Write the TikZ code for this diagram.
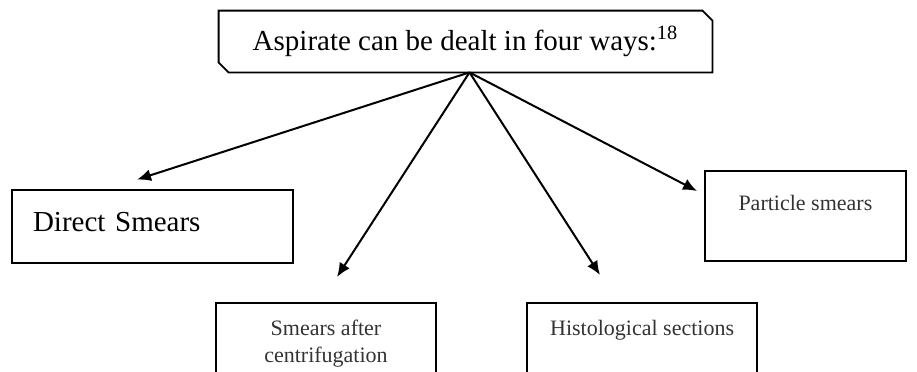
\documentclass[tikz,border=0pt]{standalone}
\usepackage{fontspec}
\setmainfont{Liberation Serif}
\usepackage{tikz}
\usetikzlibrary{arrows.meta,positioning,calc}

\begin{document}
\begin{tikzpicture}[
  x=0.5pt, y=-0.5pt,
  >={Latex[length=7pt,width=6pt]},
  box/.style={draw, line width=0.9pt, inner ysep=0pt},
  headbox/.style={minimum width=246.5pt, minimum height=30.5pt,
                  font=\fontsize{14.5}{17}\selectfont},
  bigbox/.style={box, line width=1.4pt, minimum width=140.5pt, minimum height=36.5pt,
                 text width=119.5pt, inner xsep=10.5pt, align=left,
                 font=\fontsize{14.5}{17}\selectfont},
  smallbox/.style={box, align=center, text=black!80, font=\fontsize{11}{13.5}\selectfont},
  arr/.style={->, line width=1pt}
]
\useasboundingbox (0,0) rectangle (917,371);
\clip (0,0) rectangle (917,371);

% ---------- heading ----------
\node[headbox] (ways) at (465.5,41.5) {Aspirate can be dealt in four ways:\textsuperscript{18}};
\draw[line width=0.9pt] (ways.north west) -- ([xshift=-5pt]ways.north east)
  -- ([yshift=-5pt]ways.north east) -- (ways.south east)
  -- ([xshift=5pt]ways.south west) -- ([yshift=5pt]ways.south west) -- cycle;
\coordinate (apex) at ([xshift=2pt]ways.south);

% ---------- the four ways ----------
\node[bigbox, text depth=5pt] (direct) at (152.5,226.5) {Direct Smears};
\node[smallbox, anchor=north, minimum width=110pt, inner ysep=8.5pt, text depth=40pt]
  (centrif) at (326,302) {Smears after\\centrifugation};
\node[smallbox, anchor=north east, inner xsep=11.5pt, inner ysep=8.5pt, text depth=40pt]
  (histo) at (758,302) {Histological sections};
\node[smallbox, anchor=north west, minimum width=100.5pt, text height=20pt,
  text depth=25pt] (particle) at (704,170) {Particle smears};

\draw[arr] (apex) -- ([shift={(-15.5,-9)}]direct.north);
\draw[arr] (apex) -- ([shift={(11,-25)}]centrif.north);
\draw[arr] (apex) -- ([shift={(-158,-27)}]histo.north east);
\draw[arr] (apex) -- ([shift={(-7,21)}]particle.north west);

\end{tikzpicture}
\end{document}
